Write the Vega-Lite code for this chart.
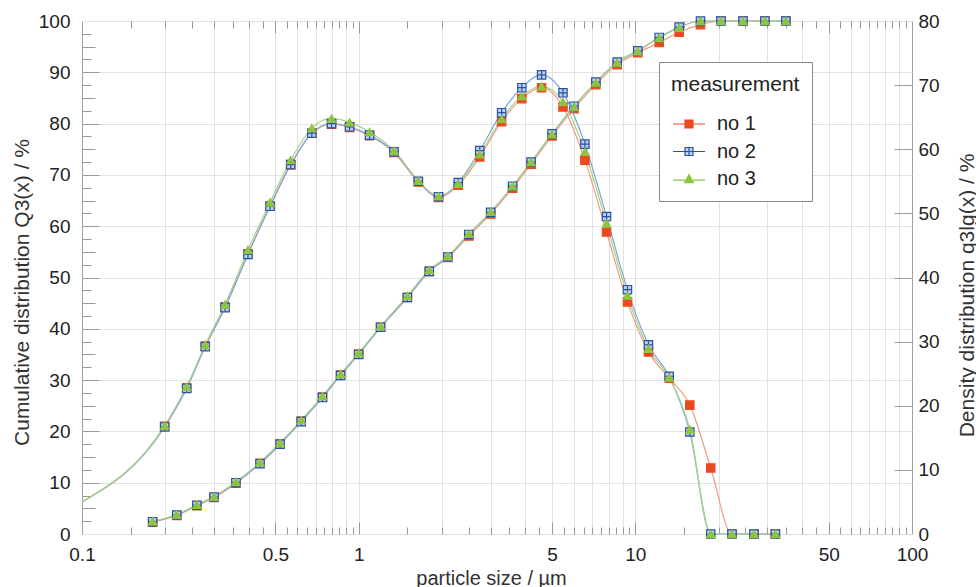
{
 "$schema": "https://vega.github.io/schema/vega-lite/v6.json",
 "width": 830, "height": 513,
 "autosize": {"type": "none"},
 "padding": {"left": 82, "top": 21, "right": 64, "bottom": 53},
 "background": "white",
 "config": {
  "font": "Liberation Sans",
  "view": {"stroke": "#a0a0a0", "strokeWidth": 1},
  "axis": {"labelFont": "Liberation Sans", "titleFont": "Liberation Sans", "labelColor": "#222", "titleColor": "#333", "titleFontWeight": "normal", "tickColor": "#9a9a9a", "tickWidth": 1, "gridColor": "#e2e2e2", "gridWidth": 1, "domain": false, "labelFontSize": 19, "titleFontSize": 15, "labelFlush": false, "labelOverlap": false},
  "legend": {"padding": 12, "fillColor": "white", "strokeColor": "#8a8a8a", "titleFont": "Liberation Sans", "labelFont": "Liberation Sans", "titleFontSize": 21, "labelFontSize": 20, "titleFontWeight": "normal", "titleColor": "#222", "labelColor": "#222", "symbolSize": 64, "symbolStrokeWidth": 1.2, "rowPadding": 7.5, "titlePadding": 19, "symbolOffset": 8, "labelOffset": 18}
 },
 "datasets": {
  "cum": [
   {"measurement":"no 1","size":0.18,"Q3":2.3},{"measurement":"no 1","size":0.22,"Q3":3.6},{"measurement":"no 1","size":0.26,"Q3":5.5},{"measurement":"no 1","size":0.30,"Q3":7.1},{"measurement":"no 1","size":0.36,"Q3":9.9},{"measurement":"no 1","size":0.44,"Q3":13.8},{"measurement":"no 1","size":0.52,"Q3":17.6},{"measurement":"no 1","size":0.62,"Q3":22.0},{"measurement":"no 1","size":0.74,"Q3":26.7},{"measurement":"no 1","size":0.86,"Q3":31.0},{"measurement":"no 1","size":1.0,"Q3":35.1},{"measurement":"no 1","size":1.2,"Q3":40.3},{"measurement":"no 1","size":1.5,"Q3":46.1},{"measurement":"no 1","size":1.8,"Q3":51.2},{"measurement":"no 1","size":2.1,"Q3":53.9},{"measurement":"no 1","size":2.5,"Q3":58.1},{"measurement":"no 1","size":3.0,"Q3":62.4},{"measurement":"no 1","size":3.6,"Q3":67.4},{"measurement":"no 1","size":4.2,"Q3":72.1},{"measurement":"no 1","size":5.0,"Q3":77.6},{"measurement":"no 1","size":6.0,"Q3":82.9},{"measurement":"no 1","size":7.2,"Q3":87.6},{"measurement":"no 1","size":8.6,"Q3":91.5},{"measurement":"no 1","size":10.2,"Q3":93.8},{"measurement":"no 1","size":12.2,"Q3":95.8},{"measurement":"no 1","size":14.4,"Q3":97.8},{"measurement":"no 1","size":17.2,"Q3":99.3},{"measurement":"no 1","size":20.4,"Q3":100},{"measurement":"no 1","size":24.5,"Q3":100},{"measurement":"no 1","size":29.4,"Q3":100},{"measurement":"no 1","size":35.0,"Q3":100},
   {"measurement":"no 2","size":0.18,"Q3":2.4},{"measurement":"no 2","size":0.22,"Q3":3.7},{"measurement":"no 2","size":0.26,"Q3":5.6},{"measurement":"no 2","size":0.30,"Q3":7.2},{"measurement":"no 2","size":0.36,"Q3":10.0},{"measurement":"no 2","size":0.44,"Q3":13.7},{"measurement":"no 2","size":0.52,"Q3":17.5},{"measurement":"no 2","size":0.62,"Q3":21.9},{"measurement":"no 2","size":0.74,"Q3":26.6},{"measurement":"no 2","size":0.86,"Q3":30.9},{"measurement":"no 2","size":1.0,"Q3":35.0},{"measurement":"no 2","size":1.2,"Q3":40.3},{"measurement":"no 2","size":1.5,"Q3":46.1},{"measurement":"no 2","size":1.8,"Q3":51.2},{"measurement":"no 2","size":2.1,"Q3":54.0},{"measurement":"no 2","size":2.5,"Q3":58.4},{"measurement":"no 2","size":3.0,"Q3":62.7},{"measurement":"no 2","size":3.6,"Q3":67.8},{"measurement":"no 2","size":4.2,"Q3":72.5},{"measurement":"no 2","size":5.0,"Q3":78.0},{"measurement":"no 2","size":6.0,"Q3":83.4},{"measurement":"no 2","size":7.2,"Q3":88.1},{"measurement":"no 2","size":8.6,"Q3":92.0},{"measurement":"no 2","size":10.2,"Q3":94.2},{"measurement":"no 2","size":12.2,"Q3":96.8},{"measurement":"no 2","size":14.4,"Q3":98.8},{"measurement":"no 2","size":17.2,"Q3":100},{"measurement":"no 2","size":20.4,"Q3":100},{"measurement":"no 2","size":24.5,"Q3":100},{"measurement":"no 2","size":29.4,"Q3":100},{"measurement":"no 2","size":35.0,"Q3":100},
   {"measurement":"no 3","size":0.18,"Q3":2.5},{"measurement":"no 3","size":0.22,"Q3":3.8},{"measurement":"no 3","size":0.26,"Q3":5.7},{"measurement":"no 3","size":0.30,"Q3":7.3},{"measurement":"no 3","size":0.36,"Q3":10.2},{"measurement":"no 3","size":0.44,"Q3":14.0},{"measurement":"no 3","size":0.52,"Q3":17.8},{"measurement":"no 3","size":0.62,"Q3":22.2},{"measurement":"no 3","size":0.74,"Q3":26.9},{"measurement":"no 3","size":0.86,"Q3":31.2},{"measurement":"no 3","size":1.0,"Q3":35.3},{"measurement":"no 3","size":1.2,"Q3":40.5},{"measurement":"no 3","size":1.5,"Q3":46.4},{"measurement":"no 3","size":1.8,"Q3":51.5},{"measurement":"no 3","size":2.1,"Q3":54.2},{"measurement":"no 3","size":2.5,"Q3":58.5},{"measurement":"no 3","size":3.0,"Q3":62.8},{"measurement":"no 3","size":3.6,"Q3":67.8},{"measurement":"no 3","size":4.2,"Q3":72.5},{"measurement":"no 3","size":5.0,"Q3":77.9},{"measurement":"no 3","size":6.0,"Q3":83.3},{"measurement":"no 3","size":7.2,"Q3":88.0},{"measurement":"no 3","size":8.6,"Q3":91.9},{"measurement":"no 3","size":10.2,"Q3":94.1},{"measurement":"no 3","size":12.2,"Q3":96.7},{"measurement":"no 3","size":14.4,"Q3":98.7},{"measurement":"no 3","size":17.2,"Q3":100},{"measurement":"no 3","size":20.4,"Q3":100},{"measurement":"no 3","size":24.5,"Q3":100},{"measurement":"no 3","size":29.4,"Q3":100},{"measurement":"no 3","size":35.0,"Q3":100}
  ],
  "dens": [
   {"measurement":"no 1","size":0.1,"q3":5.0},{"measurement":"no 1","size":0.199,"q3":16.8},{"measurement":"no 1","size":0.239,"q3":22.8},{"measurement":"no 1","size":0.279,"q3":29.3},{"measurement":"no 1","size":0.329,"q3":35.4},{"measurement":"no 1","size":0.398,"q3":43.7},{"measurement":"no 1","size":0.478,"q3":51.1},{"measurement":"no 1","size":0.568,"q3":57.6},{"measurement":"no 1","size":0.677,"q3":62.5},{"measurement":"no 1","size":0.798,"q3":63.9},{"measurement":"no 1","size":0.927,"q3":63.4},{"measurement":"no 1","size":1.095,"q3":62.1},{"measurement":"no 1","size":1.342,"q3":59.5},{"measurement":"no 1","size":1.643,"q3":54.9},{"measurement":"no 1","size":1.944,"q3":52.5},{"measurement":"no 1","size":2.291,"q3":54.4},{"measurement":"no 1","size":2.739,"q3":58.8},{"measurement":"no 1","size":3.286,"q3":64.3},{"measurement":"no 1","size":3.888,"q3":67.9},{"measurement":"no 1","size":4.583,"q3":69.6},{"measurement":"no 1","size":5.477,"q3":66.6},{"measurement":"no 1","size":6.573,"q3":58.3},{"measurement":"no 1","size":7.869,"q3":47.1},{"measurement":"no 1","size":9.366,"q3":36.2},{"measurement":"no 1","size":11.155,"q3":28.4},{"measurement":"no 1","size":13.255,"q3":24.3},{"measurement":"no 1","size":15.738,"q3":20.1},{"measurement":"no 1","size":18.732,"q3":10.3},{"measurement":"no 1","size":22.356,"q3":0},{"measurement":"no 1","size":26.84,"q3":0},{"measurement":"no 1","size":32.08,"q3":0},
   {"measurement":"no 2","size":0.1,"q3":5.0},{"measurement":"no 2","size":0.199,"q3":16.7},{"measurement":"no 2","size":0.239,"q3":22.7},{"measurement":"no 2","size":0.279,"q3":29.2},{"measurement":"no 2","size":0.329,"q3":35.3},{"measurement":"no 2","size":0.398,"q3":43.6},{"measurement":"no 2","size":0.478,"q3":51.1},{"measurement":"no 2","size":0.568,"q3":57.6},{"measurement":"no 2","size":0.677,"q3":62.5},{"measurement":"no 2","size":0.798,"q3":64.0},{"measurement":"no 2","size":0.927,"q3":63.5},{"measurement":"no 2","size":1.095,"q3":62.2},{"measurement":"no 2","size":1.342,"q3":59.6},{"measurement":"no 2","size":1.643,"q3":55.0},{"measurement":"no 2","size":1.944,"q3":52.6},{"measurement":"no 2","size":2.291,"q3":54.8},{"measurement":"no 2","size":2.739,"q3":59.8},{"measurement":"no 2","size":3.286,"q3":65.7},{"measurement":"no 2","size":3.888,"q3":69.6},{"measurement":"no 2","size":4.583,"q3":71.6},{"measurement":"no 2","size":5.477,"q3":68.8},{"measurement":"no 2","size":6.573,"q3":60.8},{"measurement":"no 2","size":7.869,"q3":49.5},{"measurement":"no 2","size":9.366,"q3":38.1},{"measurement":"no 2","size":11.155,"q3":29.5},{"measurement":"no 2","size":13.255,"q3":24.6},{"measurement":"no 2","size":15.738,"q3":15.9},{"measurement":"no 2","size":18.732,"q3":0},{"measurement":"no 2","size":22.356,"q3":0},{"measurement":"no 2","size":26.84,"q3":0},{"measurement":"no 2","size":32.08,"q3":0},
   {"measurement":"no 3","size":0.1,"q3":5.0},{"measurement":"no 3","size":0.199,"q3":16.9},{"measurement":"no 3","size":0.239,"q3":23.0},{"measurement":"no 3","size":0.279,"q3":29.5},{"measurement":"no 3","size":0.329,"q3":35.8},{"measurement":"no 3","size":0.398,"q3":44.3},{"measurement":"no 3","size":0.478,"q3":51.7},{"measurement":"no 3","size":0.568,"q3":58.3},{"measurement":"no 3","size":0.677,"q3":63.3},{"measurement":"no 3","size":0.798,"q3":64.8},{"measurement":"no 3","size":0.927,"q3":64.2},{"measurement":"no 3","size":1.095,"q3":62.7},{"measurement":"no 3","size":1.342,"q3":59.8},{"measurement":"no 3","size":1.643,"q3":55.1},{"measurement":"no 3","size":1.944,"q3":52.7},{"measurement":"no 3","size":2.291,"q3":54.6},{"measurement":"no 3","size":2.739,"q3":59.2},{"measurement":"no 3","size":3.286,"q3":64.7},{"measurement":"no 3","size":3.888,"q3":68.3},{"measurement":"no 3","size":4.583,"q3":69.8},{"measurement":"no 3","size":5.477,"q3":67.4},{"measurement":"no 3","size":6.573,"q3":59.6},{"measurement":"no 3","size":7.869,"q3":48.4},{"measurement":"no 3","size":9.366,"q3":37.2},{"measurement":"no 3","size":11.155,"q3":28.9},{"measurement":"no 3","size":13.255,"q3":24.4},{"measurement":"no 3","size":15.738,"q3":16.3},{"measurement":"no 3","size":18.732,"q3":0},{"measurement":"no 3","size":22.356,"q3":0},{"measurement":"no 3","size":26.84,"q3":0},{"measurement":"no 3","size":32.08,"q3":0}
  ]
 },
 "layer": [
  {
   "data": {"name": "cum"},
   "layer": [
    {
     "mark": {"type": "line", "interpolate": "monotone", "strokeWidth": 1.2},
     "encoding": {
      "x": {"field": "size", "type": "quantitative", "scale": {"type": "log", "domain": [0.1, 100], "nice": false},
            "axis": {"orient": "bottom", "values": [0.1, 0.5, 1, 5, 10, 50, 100], "format": "~g", "ticks": false, "grid": false, "labelPadding": 11, "title": "particle size / µm", "titleX": 409, "titleY": 44, "titleBaseline": "middle", "titleFontSize": 20}},
      "y": {"field": "Q3", "type": "quantitative", "scale": {"domain": [0, 100], "nice": false},
            "axis": {"orient": "left", "values": [0,10,20,30,40,50,60,70,80,90,100], "ticks": false, "grid": true, "labelPadding": 12, "title": "Cumulative distribution Q3(x) / %", "titleX": -60, "titleY": 271, "titleAngle": 270, "titleBaseline": "middle", "titleAlign": "center", "titleFontSize": 21}},
      "color": {"field": "measurement", "type": "nominal", "scale": {"range": ["#f29a85", "#7ea4da", "#a7d487"]}, "legend": null}
     }
    },
    {
     "mark": {"type": "point", "filled": true, "opacity": 1, "size": 70, "strokeWidth": 1.2},
     "encoding": {
      "x": {"field": "size", "type": "quantitative", "scale": {"type": "log", "domain": [0.1, 100], "nice": false},
            "axis": {"orient": "bottom", "values": [0.2,0.3,0.4,0.5,0.6,0.7,0.8,0.9,1,2,3,4,5,6,7,8,9,10,20,30,40,50,60,70,80,90], "labels": false, "ticks": false, "grid": true, "title": null}},
      "y": {"field": "Q3", "type": "quantitative", "scale": {"domain": [0, 100], "nice": false},
            "axis": {"orient": "left", "values": [2.5,5,7.5,10,12.5,15,17.5,20,22.5,25,27.5,30,32.5,35,37.5,40,42.5,45,47.5,50,52.5,55,57.5,60,62.5,65,67.5,70,72.5,75,77.5,80,82.5,85,87.5,90,92.5,95,97.5], "labels": false, "grid": false, "title": null,
                     "tickSize": {"condition": [{"test": "datum.value % 10 == 0", "value": -17}, {"test": "datum.value % 5 == 0", "value": -13}], "value": -9}}},
      "fill": {"field": "measurement", "type": "nominal", "scale": {"domain": ["no 1", "no 2", "no 3"], "range": ["#ea4a1f", "#bcd0f0", "#8cc540"]},
               "legend": {"title": "measurement", "orient": "none", "legendX": 577, "legendY": 41, "symbolType": {"expr": "datum.value == 'no 1' ? 'M-4,0H-1M1,0H4M-1,-1H1V1H-1Z' : datum.value == 'no 2' ? 'M-4,0H-1M1,0H4M-1,-1H1V1H-1ZM-1,0H1M0,-1V1' : 'M-4,0.3H-1M1,0.3H4M0,-1.1L1.1,0.9H-1.1Z'"}}},
      "stroke": {"field": "measurement", "type": "nominal", "scale": {"domain": ["no 1", "no 2", "no 3"], "range": ["#ea4a1f", "#2a52a3", "#8cc540"]},
               "legend": {"title": "measurement", "orient": "none", "legendX": 577, "legendY": 41, "symbolType": {"expr": "datum.value == 'no 1' ? 'M-4,0H-1M1,0H4M-1,-1H1V1H-1Z' : datum.value == 'no 2' ? 'M-4,0H-1M1,0H4M-1,-1H1V1H-1ZM-1,0H1M0,-1V1' : 'M-4,0.3H-1M1,0.3H4M0,-1.1L1.1,0.9H-1.1Z'"}}},
      "shape": {"field": "measurement", "type": "nominal", "scale": {"range": ["square", "M-1,-1H1V1H-1ZM-1,0H1M0,-1V1", "triangle-up"]}, "legend": null}
     }
    }
   ],
   "resolve": {"axis": {"x": "independent", "y": "independent"}}
  },
  {
   "data": {"name": "dens"},
   "layer": [
    {
     "mark": {"type": "line", "interpolate": "monotone", "strokeWidth": 1.2},
     "encoding": {
      "x": {"field": "size", "type": "quantitative", "scale": {"type": "log", "domain": [0.1, 100], "nice": false},
            "axis": {"orient": "bottom", "values": [0.15,0.2,0.25,0.3,0.35,0.4,0.45,0.5,0.55,0.6,0.65,0.7,0.75,0.8,0.85,0.9,0.95,1,1.5,2,2.5,3,3.5,4,4.5,5,5.5,6,6.5,7,7.5,8,8.5,9,9.5,10,15,20,25,30,35,40,45,50,55,60,65,70,75,80,85,90,95], "labels": false, "grid": false, "title": null,
                     "tickSize": {"condition": {"test": "indexof([0.5, 1, 5, 10, 50], datum.value) >= 0", "value": -12}, "value": -7}}},
      "y": {"field": "q3", "type": "quantitative", "scale": {"domain": [0, 80], "nice": false},
            "axis": {"orient": "right", "values": [0,10,20,30,40,50,60,70,80], "ticks": false, "grid": false, "labelPadding": 6, "title": "Density distribution q3lg(x) / %", "titleX": 55, "titleY": 274, "titleAngle": 270, "titleBaseline": "middle", "titleAlign": "center", "titleFontSize": 21}},
      "color": {"field": "measurement", "type": "nominal", "scale": {"range": ["#f29a85", "#7ea4da", "#a7d487"]}, "legend": null}
     }
    },
    {
     "transform": [{"filter": "datum.size > 0.15"}],
     "mark": {"type": "point", "filled": true, "opacity": 1, "size": 70, "strokeWidth": 1.2},
     "encoding": {
      "x": {"field": "size", "type": "quantitative", "scale": {"type": "log", "domain": [0.1, 100], "nice": false},
            "axis": {"orient": "top", "values": [0.15,0.2,0.25,0.3,0.35,0.4,0.45,0.5,0.55,0.6,0.65,0.7,0.75,0.8,0.85,0.9,0.95,1,1.5,2,2.5,3,3.5,4,4.5,5,5.5,6,6.5,7,7.5,8,8.5,9,9.5,10,15,20,25,30,35,40,45,50,55,60,65,70,75,80,85,90,95], "labels": false, "grid": false, "title": null,
                     "tickSize": {"condition": {"test": "indexof([0.5, 1, 5, 10, 50], datum.value) >= 0", "value": -12}, "value": -7}}},
      "y": {"field": "q3", "type": "quantitative", "scale": {"domain": [0, 80], "nice": false},
            "axis": {"orient": "right", "values": [10,20,30,40,50,60,70], "labels": false, "grid": false, "title": null, "tickSize": -18}},
      "fill": {"field": "measurement", "type": "nominal", "scale": {"domain": ["no 1", "no 2", "no 3"], "range": ["#ea4a1f", "#bcd0f0", "#8cc540"]},
               "legend": {"title": "measurement", "orient": "none", "legendX": 577, "legendY": 41, "symbolType": {"expr": "datum.value == 'no 1' ? 'M-4,0H-1M1,0H4M-1,-1H1V1H-1Z' : datum.value == 'no 2' ? 'M-4,0H-1M1,0H4M-1,-1H1V1H-1ZM-1,0H1M0,-1V1' : 'M-4,0.3H-1M1,0.3H4M0,-1.1L1.1,0.9H-1.1Z'"}}},
      "stroke": {"field": "measurement", "type": "nominal", "scale": {"domain": ["no 1", "no 2", "no 3"], "range": ["#ea4a1f", "#2a52a3", "#8cc540"]},
               "legend": {"title": "measurement", "orient": "none", "legendX": 577, "legendY": 41, "symbolType": {"expr": "datum.value == 'no 1' ? 'M-4,0H-1M1,0H4M-1,-1H1V1H-1Z' : datum.value == 'no 2' ? 'M-4,0H-1M1,0H4M-1,-1H1V1H-1ZM-1,0H1M0,-1V1' : 'M-4,0.3H-1M1,0.3H4M0,-1.1L1.1,0.9H-1.1Z'"}}},
      "shape": {"field": "measurement", "type": "nominal", "scale": {"range": ["square", "M-1,-1H1V1H-1ZM-1,0H1M0,-1V1", "triangle-up"]}, "legend": null}
     }
    }
   ],
   "resolve": {"axis": {"x": "independent", "y": "independent"}}
  }
 ],
 "resolve": {"scale": {"y": "independent"}, "axis": {"x": "independent", "y": "independent"}}
}
